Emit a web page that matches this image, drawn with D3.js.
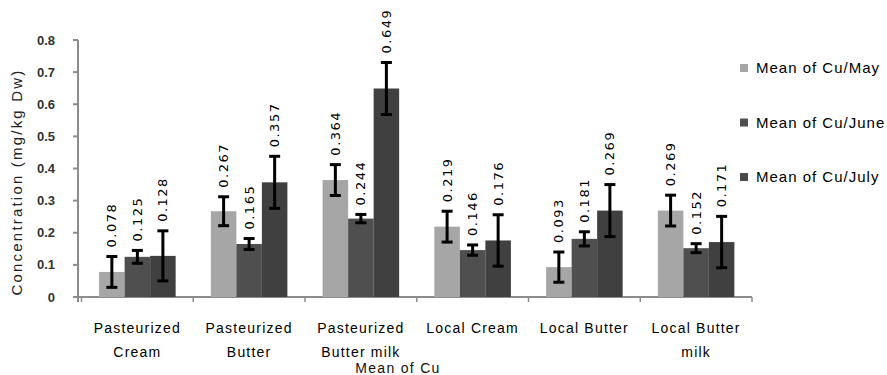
<!DOCTYPE html>
<html><head><meta charset="utf-8">
<script src="https://cdn.jsdelivr.net/npm/d3@7"></script>
<style>body{margin:0;background:#fff}svg{display:block}</style>
</head><body>
<svg id="c" width="887" height="375"></svg>
<script>
const categories = [["Pasteurized","Cream"],["Pasteurized","Butter"],["Pasteurized","Butter milk"],["Local Cream"],["Local Butter"],["Local Butter","milk"]];
const seriesNames = ["Mean of Cu/May","Mean of Cu/June","Mean of Cu/July"];
const may  = [0.078,0.267,0.364,0.219,0.093,0.269];
const june = [0.125,0.165,0.244,0.146,0.181,0.152];
const july = [0.128,0.357,0.649,0.176,0.269,0.171];
const mayErr  = [0.048,0.045,0.048,0.048,0.047,0.048];
const juneErr = [0.020,0.017,0.013,0.016,0.022,0.014];
const julyErr = [0.078,0.081,0.081,0.080,0.081,0.080];
const labelsMay  = ["0.078","0.267","0.364","0.219","0.093","0.269"];
const labelsJune = ["0.125","0.165","0.244","0.146","0.181","0.152"];
const labelsJuly = ["0.128","0.357","0.649","0.176","0.269","0.171"];
const yTicks = [0,0.1,0.2,0.3,0.4,0.5,0.6,0.7,0.8];
const yTitle = "Concentration (mg/kg Dw)";
const xTitle = "Mean of Cu";

(function(){
const colors = ["#a6a6a6","#4f4f4f","#404040"];
const vals = [may, june, july], errs = [mayErr, juneErr, julyErr], labs = [labelsMay, labelsJune, labelsJuly];

const svg = d3.select("#c");
const pLeft = 78, pRight = 752, pTop = 40, pBottom = 297;
const x0 = d3.scaleBand().domain(d3.range(categories.length)).range([81.5, pRight]);
const x1 = d3.scaleBand().domain(d3.range(3)).range([0, x0.bandwidth()]).paddingOuter(0.69);
const y = d3.scaleLinear().domain([0,0.8]).range([pBottom, pTop]);

const axisColor = "#8c8c8c";
svg.append("line").attr("x1",pLeft).attr("x2",pLeft).attr("y1",y(0.8)).attr("y2",pBottom+5).attr("stroke",axisColor).attr("stroke-width",2);
svg.append("line").attr("x1",pLeft).attr("x2",pRight).attr("y1",pBottom).attr("y2",pBottom).attr("stroke",axisColor).attr("stroke-width",2);
svg.selectAll(".yt").data(yTicks).join("line").attr("x1",pLeft-5).attr("x2",pLeft).attr("y1",d=>y(d)).attr("y2",d=>y(d)).attr("stroke",axisColor).attr("stroke-width",2);
svg.selectAll(".yl").data(yTicks).join("text").attr("x",55).attr("y",d=>y(d)+4.5).attr("text-anchor","end")
  .attr("font-family","Liberation Sans, Arial, sans-serif").attr("font-size",13).attr("font-weight","bold").attr("fill","#333")
  .text(d=>d===0?"0":d.toFixed(1));
const bounds = d3.range(categories.length+1).map(i=> i<categories.length ? x0(i) : x0(i-1)+x0.bandwidth());
svg.selectAll(".xt").data(bounds).join("line").attr("x1",d=>d).attr("x2",d=>d).attr("y1",pBottom).attr("y2",pBottom+5).attr("stroke",axisColor).attr("stroke-width",1.5);

const g = svg.append("g");
vals.forEach((arr, s) => {
  g.selectAll(".b"+s).data(arr).join("rect")
    .attr("x",(d,i)=>x0(i)+x1(s)).attr("width",x1.bandwidth())
    .attr("y",d=>y(d)).attr("height",d=>pBottom-y(d)).attr("fill",colors[s]);
});
vals.forEach((arr, s) => {
  arr.forEach((v,i) => {
    const cx = x0(i)+x1(s)+x1.bandwidth()/2, e = errs[s][i];
    const eg = g.append("g").attr("stroke","#000").attr("stroke-width",3);
    eg.append("line").attr("x1",cx).attr("x2",cx).attr("y1",y(v+e)).attr("y2",y(v-e));
    eg.append("line").attr("x1",cx-5.5).attr("x2",cx+5.5).attr("y1",y(v+e)).attr("y2",y(v+e));
    eg.append("line").attr("x1",cx-5.5).attr("x2",cx+5.5).attr("y1",y(v-e)).attr("y2",y(v-e));
    g.append("text").attr("transform",`translate(${cx+4.5},${y(v+e)-9}) rotate(-90)`)
      .attr("font-family","DejaVu Sans, sans-serif").attr("font-size",13).attr("letter-spacing",1.5).attr("fill","#000")
      .text(labs[s][i]);
  });
});

categories.forEach((lines,i) => {
  const cx = x0(i)+x0.bandwidth()/2;
  lines.forEach((t,k) => {
    svg.append("text").attr("x",cx).attr("y",333+k*24).attr("text-anchor","middle")
      .attr("font-family","Liberation Sans, Arial, sans-serif").attr("font-size",14).attr("letter-spacing",1.2).attr("fill","#000")
      .text(t);
  });
});
svg.append("text").attr("x",398).attr("y",373).attr("text-anchor","middle")
  .attr("font-family","Liberation Sans, Arial, sans-serif").attr("font-size",14).attr("letter-spacing",1.3).attr("fill","#111").text(xTitle);
svg.append("text").attr("transform","translate(22,182) rotate(-90)").attr("text-anchor","middle")
  .attr("font-family","Liberation Sans, Arial, sans-serif").attr("font-size",15).attr("letter-spacing",2.2).attr("fill","#222").text(yTitle);

seriesNames.forEach((n,s) => {
  const ly = 68 + s*54.5;
  svg.append("rect").attr("x",740).attr("y",ly-4).attr("width",8).attr("height",8).attr("fill",s===2?"#4a4a4a":colors[s]);
  svg.append("text").attr("x",756).attr("y",ly+5).attr("font-family","Liberation Sans, Arial, sans-serif")
    .attr("font-size",15).attr("letter-spacing",1).attr("fill","#000").text(n);
});
})();
</script>
</body></html>
